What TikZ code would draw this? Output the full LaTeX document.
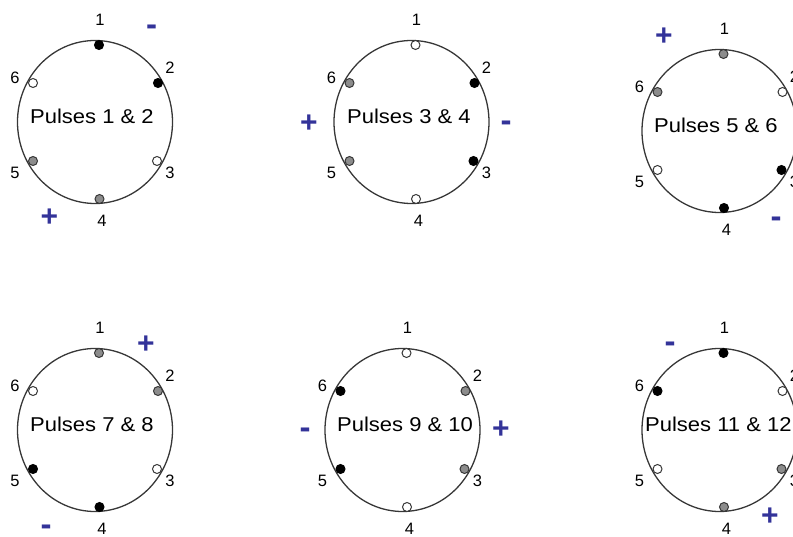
\documentclass[tikz,border=0pt]{standalone}
\usepackage{fontspec}
\setmainfont{Liberation Sans}
\usetikzlibrary{shapes.geometric,calc}
\definecolor{signblue}{RGB}{51,51,153}
\definecolor{ringgray}{RGB}{55,55,55}
\definecolor{pingray}{RGB}{140,140,140}
\tikzset{
  ring/.style={ellipse, draw=ringgray, line width=1.3pt, minimum width=155pt, minimum height=163pt, inner sep=0pt},
  pinbase/.style={circle, inner sep=0pt, minimum size=9pt, line width=1pt, draw=ringgray},
  pink/.style={pinbase, fill=black, draw=black},
  ping/.style={pinbase, fill=pingray},
  pinw/.style={pinbase, fill=white},
  pinlabel/.style={font=\fontsize{16.5}{16.5}\selectfont, inner sep=0pt},
  pulsetxt/.style={font=\fontsize{20}{20}\selectfont, inner sep=0pt, anchor=west},
  plussign/.style={font=\fontsize{30}{30}\selectfont\bfseries, text=signblue, inner sep=0pt},
  minussign/.style={font=\fontsize{33}{33}\selectfont\bfseries, text=signblue, inner sep=0pt},
}
\newcommand\pulsedial[8]{%
  \begin{scope}[shift={#2}]
    \node[ring] (#1) at (0,0) {};
    \node[pin#3] (#1-p1) at (4,-77) {};
    \node[pin#4] (#1-p2) at (63,-39) {};
    \node[pin#5] (#1-p3) at (62,39) {};
    \node[pin#6] (#1-p4) at (4.5,77) {};
    \node[pin#7] (#1-p5) at (-62,39) {};
    \node[pin#8] (#1-p6) at (-62,-39) {};
    \node[pinlabel] (#1-l1) at (5,-102) {1};
    \node[pinlabel] (#1-l2) at (75,-54) {2};
    \node[pinlabel] (#1-l3) at (75,51) {3};
    \node[pinlabel] (#1-l4) at (7,99) {4};
    \node[pinlabel] (#1-l5) at (-80,51) {5};
    \node[pinlabel] (#1-l6) at (-80,-44) {6};
  \end{scope}}
\begin{document}
\begin{tikzpicture}[x=1pt,y=-1pt]
  \useasboundingbox (0,0) rectangle (793,537);
  \pulsedial{d1}{(95,122)}{k}{k}{w}{g}{g}{w}
  \pulsedial{d2}{(411.5,122)}{w}{k}{k}{w}{g}{g}
  \pulsedial{d3}{(719.5,131)}{g}{w}{k}{k}{w}{g}
  \pulsedial{d4}{(95,430)}{g}{g}{w}{k}{k}{w}
  \pulsedial{d5}{(402.5,430)}{w}{g}{g}{w}{k}{k}
  \pulsedial{d6}{(719.5,430)}{k}{w}{g}{g}{w}{k}
  \node[pulsetxt] (d1-t) at ($(d1.center)+(-65,-5.5)$) {\scalebox{1.1}[1]{Pulses 1 \& 2}};
  \node[pulsetxt] (d2-t) at ($(d2.center)+(-64.5,-5.5)$) {\scalebox{1.1}[1]{Pulses 3 \& 4}};
  \node[pulsetxt] (d3-t) at ($(d3.center)+(-65.5,-5.5)$) {\scalebox{1.1}[1]{Pulses 5 \& 6}};
  \node[pulsetxt] (d4-t) at ($(d4.center)+(-65,-5.5)$) {\scalebox{1.1}[1]{Pulses 7 \& 8}};
  \node[pulsetxt] (d5-t) at ($(d5.center)+(-65.5,-5.5)$) {\scalebox{1.1}[1]{Pulses 9 \& 10}};
  \node[pulsetxt] (d6-t) at ($(d6.center)+(-74.5,-5.5)$) {\scalebox{1.1}[1]{Pulses 11 \& 12}};
  \node[minussign] (d1-m) at (151.5,30) {-};
  \node[plussign] (d1-s) at (49.5,218) {+};
  \node[plussign] (d2-s) at (309,124) {+};
  \node[minussign] (d2-m) at (506,126) {-};
  \node[plussign] (d3-s) at (664,37) {+};
  \node[minussign] (d3-m) at (776,222) {-};
  \node[plussign] (d4-s) at (146,345) {+};
  \node[minussign] (d4-m) at (46,530) {-};
  \node[minussign] (d5-m) at (305,433) {-};
  \node[plussign] (d5-s) at (501,430) {+};
  \node[minussign] (d6-m) at (670,347) {-};
  \node[plussign] (d6-s) at (770,517) {+};
\end{tikzpicture}
\end{document}
